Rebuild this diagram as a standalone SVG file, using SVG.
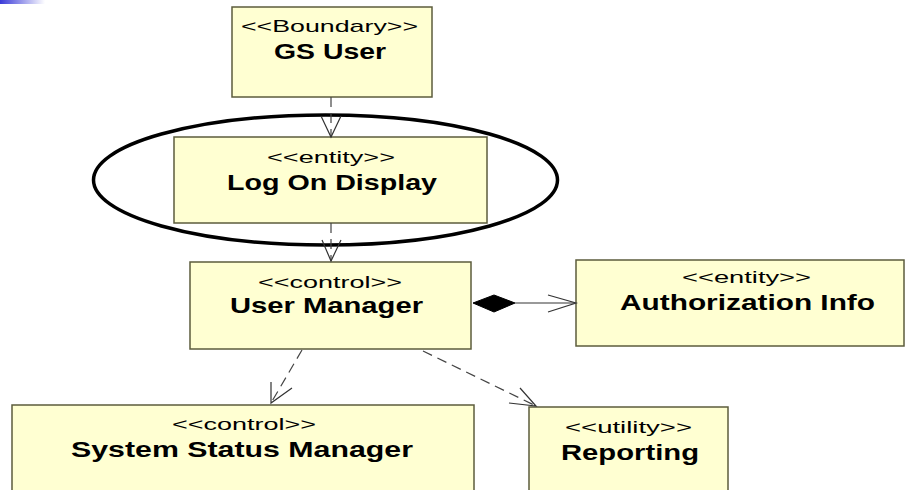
<svg xmlns="http://www.w3.org/2000/svg" width="906" height="490" viewBox="0 0 906 490">
  <defs>
    <linearGradient id="cornerBar" x1="0" y1="0" x2="1" y2="0">
      <stop offset="0" stop-color="#3a3ad8"/>
      <stop offset="1" stop-color="#ffffff"/>
    </linearGradient>
    <style>
      .box { fill: #ffffd2; stroke: #5c5c3c; stroke-width: 1.5; }
      .stereo { font-family: "Liberation Sans", Arial, sans-serif; font-size: 17px; fill: #000; }
      .name { font-family: "Liberation Sans", Arial, sans-serif; font-size: 21.5px; font-weight: bold; fill: #000; }
      .dep { fill: none; stroke: #444; stroke-width: 1.2; stroke-dasharray: 10 6; }
      .head { fill: none; stroke: #333; stroke-width: 1.2; }
      .assoc { fill: none; stroke: #777; stroke-width: 1.4; }
    </style>
  </defs>

  <rect width="906" height="490" fill="#ffffff"/>
  <rect x="0" y="0" width="45" height="4" fill="url(#cornerBar)"/>

  <!-- highlight ellipse around the log-on display -->
  <ellipse cx="325.5" cy="180" rx="232" ry="65" fill="none" stroke="#000" stroke-width="3.5"/>

  <g id="gs-user">
    <rect class="box" x="232" y="7" width="200" height="90"/>
    <text class="stereo" x="241" y="32" textLength="177" lengthAdjust="spacingAndGlyphs">&lt;&lt;Boundary&gt;&gt;</text>
    <text class="name" x="274" y="59" textLength="112" lengthAdjust="spacingAndGlyphs">GS User</text>
  </g>

  <g id="log-on-display">
    <rect class="box" x="174" y="137" width="313" height="86"/>
    <text class="stereo" x="267" y="163" textLength="128" lengthAdjust="spacingAndGlyphs">&lt;&lt;entity&gt;&gt;</text>
    <text class="name" x="227" y="190" textLength="210" lengthAdjust="spacingAndGlyphs">Log On Display</text>
  </g>

  <g id="user-manager">
    <rect class="box" x="190" y="262" width="281" height="87"/>
    <text class="stereo" x="258" y="288" textLength="144" lengthAdjust="spacingAndGlyphs">&lt;&lt;control&gt;&gt;</text>
    <text class="name" x="230" y="313" textLength="193" lengthAdjust="spacingAndGlyphs">User Manager</text>
  </g>

  <g id="authorization-info">
    <rect class="box" x="576" y="260" width="328" height="86"/>
    <text class="stereo" x="682" y="283" textLength="129" lengthAdjust="spacingAndGlyphs">&lt;&lt;entity&gt;&gt;</text>
    <text class="name" x="620" y="310" textLength="255" lengthAdjust="spacingAndGlyphs">Authorization Info</text>
  </g>

  <g id="system-status-manager">
    <rect class="box" x="12" y="405" width="462" height="100"/>
    <text class="stereo" x="172" y="430" textLength="144" lengthAdjust="spacingAndGlyphs">&lt;&lt;control&gt;&gt;</text>
    <text class="name" x="71" y="457" textLength="342" lengthAdjust="spacingAndGlyphs">System Status Manager</text>
  </g>

  <g id="reporting">
    <rect class="box" x="529" y="407" width="199" height="100"/>
    <text class="stereo" x="565" y="433" textLength="127" lengthAdjust="spacingAndGlyphs">&lt;&lt;utility&gt;&gt;</text>
    <text class="name" x="561" y="460" textLength="138" lengthAdjust="spacingAndGlyphs">Reporting</text>
  </g>

  <g id="connectors">
    <!-- GS User to Log On Display -->
    <line class="dep" x1="331" y1="97" x2="331" y2="137"/>
    <polyline class="head" points="321,116 331,137 341,116"/>
    <!-- Log On Display to User Manager -->
    <line class="dep" x1="331" y1="223" x2="331" y2="261"/>
    <polyline class="head" points="322,240 331,261 341,240"/>
    <!-- User Manager composition to Authorization Info -->
    <line class="assoc" x1="515" y1="303" x2="576" y2="303"/>
    <polygon points="473,303 494,295 515,303 494,312" fill="#000" stroke="#000" stroke-width="1"/>
    <polyline class="head" points="548,295 576,303 548,312"/>
    <!-- User Manager to System Status Manager -->
    <line class="dep" x1="302" y1="350" x2="271" y2="403"/>
    <polyline class="head" points="271,382 271,403 292,388"/>
    <!-- User Manager to Reporting -->
    <line class="dep" x1="423" y1="351" x2="536" y2="406"/>
    <polyline class="head" points="520,388 536,406 509,403"/>
  </g>
</svg>
